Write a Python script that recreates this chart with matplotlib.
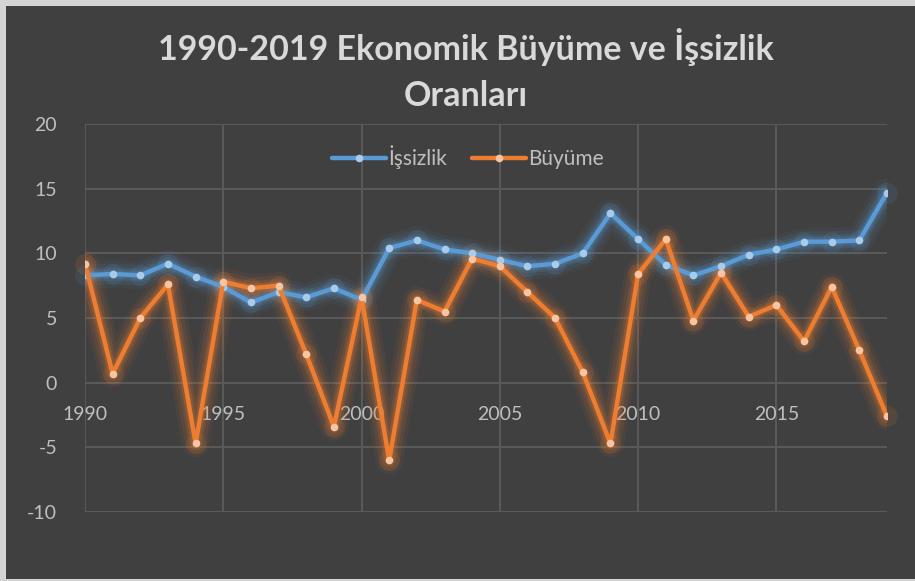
import numpy as np
import matplotlib.pyplot as plt
from matplotlib.patches import Rectangle

plt.rcParams['font.family'] = ['Lato', 'DejaVu Sans']
plt.rcParams['axes.unicode_minus'] = False

years = np.arange(1990, 2020)
issizlik = [8.3, 8.4, 8.3, 9.2, 8.2, 7.4, 6.2, 7.0, 6.6, 7.3,
            6.4, 10.4, 11.0, 10.3, 10.0, 9.5, 9.0, 9.2, 10.0, 13.1,
            11.1, 9.1, 8.3, 9.0, 9.9, 10.3, 10.9, 10.9, 11.0, 14.7]
buyume = [9.2, 0.7, 5.0, 7.6, -4.7, 7.8, 7.3, 7.5, 2.2, -3.4,
          6.6, -6.0, 6.4, 5.5, 9.6, 9.0, 7.0, 5.0, 0.8, -4.7,
          8.4, 11.1, 4.8, 8.5, 5.1, 6.0, 3.2, 7.4, 2.5, -2.6]
xticks = [1990, 1995, 2000, 2005, 2010, 2015]
yticks = [-10, -5, 0, 5, 10, 15, 20]

bg = '#404040'
txt = '#bfbfbf'
grid = '#5a5a5a'

fig = plt.figure(figsize=(9.15, 5.81), dpi=100, facecolor='#d4d4d4')
fig.patches.append(Rectangle((6 / 915, 2 / 581), 909 / 915, 573 / 581,
                             transform=fig.transFigure, facecolor=bg,
                             edgecolor='none', zorder=-5))

ax = fig.add_axes([85 / 915, 1 - 512 / 581, 802 / 915, 388 / 581])
ax.set_frame_on(False)

# grid drawn by hand
for xv in xticks:
    ax.axvline(xv, color=grid, lw=1.4, zorder=1)
for yv in yticks:
    ax.axhline(yv, color=grid, lw=1.4, zorder=1)

series = [(issizlik, '#5b9bd5', '#a9cbea', 'İşsizlik'),
          (buyume, '#ed7d31', '#f7c5a3', 'Büyüme')]

for vals, c, mc, lab in series:
    # glow
    for lw, a in [(20, 0.06), (15, 0.09), (10, 0.14), (6.5, 0.22)]:
        ax.plot(years, vals, color=c, lw=lw, alpha=a,
                solid_capstyle='round', solid_joinstyle='round', zorder=3)
    ax.plot(years, vals, 'o', color=c, ms=15, alpha=0.12, mec='none',
            zorder=3, clip_on=False)
    ax.plot(years, vals, color=c, lw=3.2, zorder=4,
            solid_capstyle='round', solid_joinstyle='round',
            marker='o', ms=5.5, mfc=mc, mec='none', label=lab)

ax.set_xlim(1990, 2019)
ax.set_ylim(-10, 20)
ax.set_xticks(xticks)
ax.set_yticks(yticks)
ax.grid(False)
for s in ax.spines.values():
    s.set_visible(False)
ax.spines['bottom'].set_position(('data', 0))
ax.tick_params(axis='both', length=0, colors=txt, labelsize=14)
ax.tick_params(axis='x', pad=17)
ax.tick_params(axis='y', pad=20)

leg = ax.legend(loc='center', bbox_to_anchor=(468 / 915, 1 - 157 / 581),
                bbox_transform=fig.transFigure, ncol=2, frameon=False,
                fontsize=15, labelcolor=txt, handlelength=2.6,
                handletextpad=0.1, columnspacing=1.2)

fig.text(466 / 915, 1 - 47 / 581, '1990-2019 Ekonomik Büyüme ve İşsizlik',
         ha='center', va='center', color='#d9d9d9', fontsize=24.5,
         fontweight='bold')
fig.text(466 / 915, 1 - 96 / 581, 'Oranları',
         ha='center', va='center', color='#d9d9d9', fontsize=24.5,
         fontweight='bold')

fig.savefig('out.png', dpi=100, facecolor=fig.get_facecolor())
